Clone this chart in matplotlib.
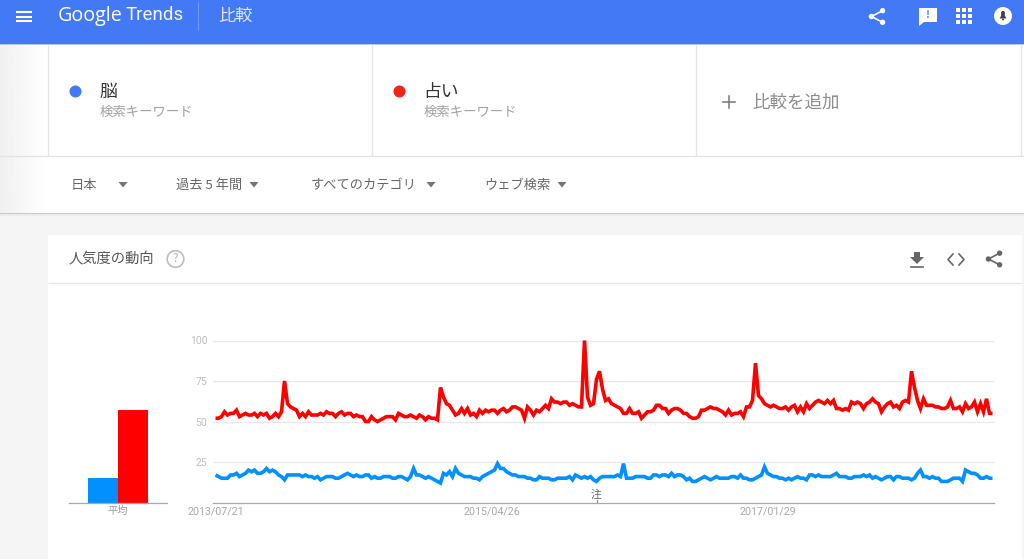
import numpy as np
import matplotlib
matplotlib.use("Agg")
import matplotlib.pyplot as plt
from matplotlib.patches import Rectangle, Circle, Polygon

plt.rcParams['font.family'] = ['Noto Sans CJK JP', 'DejaVu Sans']

terms = ['脳', '占い']
term_sub = '検索キーワード'
filters = ['日本', '過去 5 年間', 'すべてのカテゴリ', 'ウェブ検索']
y_ticks = [25, 50, 75, 100]
x_tick_idx = [0, 92, 184]
x_tick_labels = ['2013/07/21', '2015/04/26', '2017/01/29']
avg_values = [15.4, 57.4]

brain = [17,16,15,15,15,17,17,18,16,17,18,20,19,20,18,18,19,21,19,20,
         19,17,16,14,17,17,17,17,17,16,17,16,16,15,16,14,15,16,16,16,
         15,15,16,17,18,17,16,17,16,16,17,17,15,16,15,15,16,16,16,15,
         15,16,16,15,14,16,21,17,17,16,15,16,15,14,13,12,18,17,19,16,
         21,18,17,16,16,16,15,15,14,16,17,18,19,20,24,21,21,19,18,17,
         17,16,16,16,15,15,14,14,16,15,15,15,14,14,15,15,15,15,16,14,
         17,16,15,16,15,16,14,13,15,16,16,16,16,16,17,16,24,15,15,15,
         16,16,16,16,15,15,17,17,16,17,17,16,18,16,17,17,16,14,15,13,
         13,14,15,16,15,14,15,16,15,15,15,15,16,16,15,17,15,15,14,14,
         15,16,17,22,18,17,16,16,15,15,14,15,14,15,16,15,15,14,17,17,
         16,17,16,16,16,16,17,18,16,16,16,15,15,16,16,16,17,16,17,15,
         16,15,14,15,16,16,14,16,16,15,15,15,14,15,18,20,16,16,15,16,
         15,15,13,13,13,14,15,15,15,13,20,19,18,18,17,15,15,16,15,15]
fortune = [52,52,53,56,54,55,55,57,53,54,55,54,54,55,53,55,54,55,52,53,
           55,53,56,75,61,59,58,57,53,55,53,56,54,54,54,55,54,56,55,55,
           53,55,56,54,55,55,53,54,53,53,50,50,53,51,50,51,52,53,53,53,
           51,55,54,53,53,54,53,52,54,53,51,53,52,52,51,71,65,61,60,57,
           54,55,58,55,58,54,55,53,57,55,57,56,57,57,55,57,58,56,57,59,
           59,58,57,52,59,57,54,57,56,58,60,58,64,62,62,61,62,62,60,61,
           60,59,59,100,65,60,61,76,81,70,63,64,61,60,59,58,55,55,58,55,
           55,56,52,54,56,56,57,60,60,58,58,55,57,58,58,57,55,55,53,52,
           52,53,57,57,58,59,58,58,57,56,54,57,54,55,55,56,53,59,59,63,
           86,66,64,61,60,59,60,59,58,58,59,57,59,60,56,59,56,61,58,60,
           62,63,62,61,63,61,63,58,58,57,58,57,62,61,62,61,58,61,62,64,
           62,61,56,59,61,62,59,60,58,62,63,62,81,71,63,58,64,60,60,60,
           59,59,58,58,59,63,58,58,59,56,61,58,59,62,56,61,56,64,55,55]

BLUE_H = '#4479f6'
C_BLUE, C_RED = '#0090ff', '#ff0000'
W, H = 1024, 559

fig = plt.figure(figsize=(W / 100, H / 100), dpi=100, facecolor='#f5f5f5')

# ---------- page chrome, in pixel coordinates ----------
ui = fig.add_axes([0, 0, 1, 1])
ui.set_axis_off()

def rect(x0, y0, x1, y1, c, z=1):
    ui.add_patch(Rectangle((x0, y0), x1 - x0, y1 - y0, fc=c, ec='none', zorder=z))

def hline(y, x0, x1, c='#e4e4e4', lw=0.9, z=3):
    ui.plot([x0, x1], [y, y], color=c, lw=lw, zorder=z, solid_capstyle='butt')

def vline(x, y0, y1, c='#e4e4e4', lw=0.9, z=3):
    ui.plot([x, x], [y0, y1], color=c, lw=lw, zorder=z, solid_capstyle='butt')

def txt(x, y, s, size, c, ha='left', **kw):
    ui.text(x, y + 1.5, s, fontsize=size, color=c, ha=ha, va='center', zorder=6, **kw)

rect(0, 44, W, 213, 'white')
grad = np.linspace(0.94, 1.0, 48).reshape(1, -1)
ui.imshow(grad, extent=(0, 48, 213, 44), cmap='gray', vmin=0, vmax=1,
          aspect='auto', zorder=2, interpolation='bilinear')
rect(0, 212.5, W, 214, '#c8c8c8', 4)
rect(0, 214, W, 215.5, '#ececec', 2)
rect(48, 235, 1022, H, 'white')
rect(0, 0, W, 43.5, BLUE_H, 5)
rect(0, 43.5, W, 44.5, '#b9c4dc', 4)

# header
for y in (12, 16.5, 21):
    ui.plot([16, 32], [y, y], color='white', lw=1.5, zorder=6, solid_capstyle='butt')
ui.text(58, 15.5, 'Google', fontsize=14.2, color='white', ha='left', va='center', zorder=6,
        family=['Open Sans', 'DejaVu Sans'])
ui.text(126, 15.5, 'Trends', fontsize=13.5, color='#f4f7ff', ha='left', va='center', zorder=6,
        family=['Roboto', 'DejaVu Sans'])
vline(197.5, 2, 30, '#6f98f8', 0.8, 6)
txt(218, 14, '比較', 12.4, '#dfe8fd')

def share(cx, cy, c, z=6):
    pts = [(cx + 5.6, cy - 5.8), (cx - 5.6, cy), (cx + 5.6, cy + 5.8)]
    ui.plot(*zip(*pts), color=c, lw=1.2, zorder=z)
    for p in pts:
        ui.add_patch(Circle(p, 2.7, fc=c, ec='none', zorder=z))

share(877, 16.5, 'white')
ui.add_patch(Polygon([(919, 8), (937, 8), (937, 22), (924, 22), (919, 26)],
                     fc='white', ec='none', zorder=6))
ui.text(928, 15, '!', fontsize=7.5, color=BLUE_H, ha='center', va='center', zorder=7,
        fontweight='bold')
for gx in (958, 964, 970):
    for gy in (10, 16, 22):
        rect(gx - 2, gy - 2, gx + 2, gy + 2, 'white', 6)
ui.add_patch(Circle((1003, 16), 9, fc='white', ec='none', zorder=6))
ui.add_patch(Polygon([(999.5, 18.5), (1001, 16), (1001.5, 12.5), (1004.5, 12.5), (1005, 16),
                     (1006.5, 18.5)], fc='#444444', ec='none', zorder=7))
ui.add_patch(Circle((1003, 12.8), 1.9, fc='#444444', ec='none', zorder=7))
ui.add_patch(Circle((1003, 19.5), 1.0, fc='#444444', ec='none', zorder=7))

# search terms row
hline(156, 0, W, '#e2e2e2')
for x in (48, 372, 696, 1021):
    vline(x, 44, 156)
ui.add_patch(Circle((75.5, 91.5), 6, fc=BLUE_H, ec='none', zorder=6))
ui.add_patch(Circle((399.5, 91.5), 6, fc='#f0241a', ec='none', zorder=6))
txt(99.5, 90.5, terms[0], 12.8, '#333333')
txt(423.5, 90.5, terms[1], 12.8, '#333333')
txt(100, 110.5, term_sub, 9.6, '#a0a0a0')
txt(424, 110.5, term_sub, 9.6, '#a0a0a0')
ui.plot([723, 735], [101.5, 101.5], color='#777777', lw=1.1, zorder=6)
ui.plot([729, 729], [95.5, 107.5], color='#777777', lw=1.1, zorder=6)
txt(752, 101, '比較を追加', 12.6, '#8c8c8c')

# filters
for (x, s, ax_) in zip((71, 176, 310.5, 484), filters, (123, 254, 431, 562)):
    txt(x, 183.5, s, 9.5, '#666666')
    ui.add_patch(Polygon([(ax_ - 4.5, 182), (ax_ + 4.5, 182), (ax_, 187.5)],
                         fc='#757575', ec='none', zorder=6))

# card header
hline(283, 48, 1022, '#e6e6e6')
txt(69, 257.5, '人気度の動向', 10.3, '#555555')
ui.add_patch(Circle((175.5, 259), 8.3, fc='none', ec='#bdbdbd', lw=1.2, zorder=6))
txt(175.5, 257.5, '?', 8.5, '#b0b0b0', ha='center')
ui.add_patch(Polygon([(914, 252), (920, 252), (920, 257), (924, 257), (917, 264),
                      (910, 257), (914, 257)], fc='#666666', ec='none', zorder=6))
ui.plot([911, 923], [266.5, 266.5], color='#666666', lw=1.2, zorder=6)
ui.plot([953, 948, 953], [254, 259.5, 265], color='#666666', lw=1.2, zorder=6)
ui.plot([959, 964, 959], [254, 259.5, 265], color='#666666', lw=1.2, zorder=6)
share(994, 259, '#666666')

ui.set_xlim(0, W)
ui.set_ylim(H, 0)

# ---------- averages bar chart ----------
def px_axes(x0, x1, y_top, y_bot):
    return fig.add_axes([x0 / W, 1 - y_bot / H, (x1 - x0) / W, (y_bot - y_top) / H])

PLOT_TOP, PLOT_BOT = 340.5, 502.5
bar_ax = px_axes(69, 167, PLOT_TOP, PLOT_BOT)
bar_ax.patch.set_alpha(0)
bar_ax.bar([0, 1], avg_values, width=1, color=[C_BLUE, C_RED])
bar_ax.set_xlim(-34 / 30, 64 / 30)
bar_ax.set_ylim(0, 100)
bar_ax.set_yticks([])
bar_ax.set_xticks([0.5])
bar_ax.set_xticklabels(['平均'], fontsize=7.4, color='#999999')
bar_ax.tick_params(axis='x', length=0, pad=2.5)
for s in ('top', 'left', 'right'):
    bar_ax.spines[s].set_visible(False)
bar_ax.spines['bottom'].set_color('#a8a8a8')
bar_ax.spines['bottom'].set_linewidth(0.9)

# ---------- trend line chart ----------
ax = px_axes(213, 994, PLOT_TOP, PLOT_BOT)
ax.patch.set_alpha(0)
weeks = np.arange(len(fortune))
line_kw = dict(lw=2.6, solid_joinstyle='miter', solid_capstyle='butt', zorder=3, clip_on=False)
ax.plot(weeks, brain, color=C_BLUE, **line_kw)
ax.plot(weeks, fortune, color=C_RED, **line_kw)
ax.set_xlim(-2.5 / 3, 778.5 / 3)
ax.set_ylim(0, 100)
ax.set_yticks(y_ticks)
ax.set_yticklabels([str(v) for v in y_ticks], fontsize=7.5, color='#bdbdbd',
                   family=['Roboto', 'DejaVu Sans'])
ax.set_xticks(x_tick_idx)
ax.set_xticklabels(x_tick_labels, fontsize=7.7, color='#a8a8a8',
                   family=['Roboto', 'DejaVu Sans'])
ax.tick_params(axis='both', length=0)
ax.tick_params(axis='y', pad=4)
ax.tick_params(axis='x', pad=3)
ax.grid(axis='y', color='#e8e8e8', lw=0.9, zorder=0)
ax.set_axisbelow(True)
for s in ('top', 'left', 'right'):
    ax.spines[s].set_visible(False)
ax.spines['bottom'].set_color('#a8a8a8')
ax.spines['bottom'].set_linewidth(0.9)
ax.annotate('注', xy=(127, 0), xytext=(127, 5), ha='center', va='center',
            fontsize=7.8, color='#666666')
ax.plot([127, 127], [0, 1.5], color='#888888', lw=0.8, clip_on=False)

fig.savefig('out.png', dpi=100, facecolor=fig.get_facecolor())
